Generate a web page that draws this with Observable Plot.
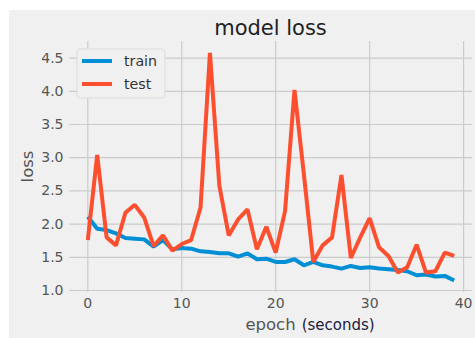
<!DOCTYPE html>
<html><head><meta charset="utf-8">
<script src="https://cdn.jsdelivr.net/npm/d3@7"></script>
<script src="https://cdn.jsdelivr.net/npm/@observablehq/plot@0.6"></script>
<style>
html,body{margin:0;padding:0;background:#fff;}
#chart{position:absolute;left:9px;top:10px;width:466px;height:328px;background:#f0f0f0;}
#chart svg{display:block;}
</style></head><body><div id="chart"></div>
<script>
const epochs = [0,1,2,3,4,5,6,7,8,9,10,11,12,13,14,15,16,17,18,19,20,21,22,23,24,25,26,27,28,29,30,31,32,33,34,35,36,37,38,39];
const trainLoss = [2.11,1.93,1.91,1.86,1.79,1.78,1.77,1.66,1.76,1.62,1.64,1.63,1.59,1.58,1.56,1.56,1.51,1.56,1.47,1.48,1.43,1.43,1.47,1.38,1.43,1.38,1.36,1.33,1.37,1.34,1.35,1.33,1.32,1.31,1.29,1.23,1.24,1.21,1.22,1.15];
const testLoss = [1.76,3.04,1.80,1.68,2.17,2.29,2.10,1.67,1.83,1.60,1.70,1.76,2.25,4.58,2.58,1.83,2.07,2.22,1.62,1.96,1.57,2.20,4.02,2.75,1.43,1.68,1.80,2.74,1.49,1.80,2.09,1.65,1.52,1.27,1.35,1.69,1.27,1.29,1.57,1.52];
const xTicks = [0,10,20,30,40];
const yTicks = [1.0,1.5,2.0,2.5,3.0,3.5,4.0,4.5];
const seriesNames = ["train","test"];
const seriesColors = ["#008fd5","#fc4f30"];
const titleText = "model loss";
const yLabel = "loss";
const xLabel = "epoch";
const xLabelExtra = "(seconds)";

const W = 466, H = 328, ML = 60, MR = 3, MT = 31, MB = 46;

const data = [];
epochs.forEach((e, i) => {
  data.push({epoch: e, loss: trainLoss[i], series: seriesNames[0]});
});
epochs.forEach((e, i) => {
  data.push({epoch: e, loss: testLoss[i], series: seriesNames[1]});
});

const font = "'DejaVu Sans', sans-serif";
const chart = Plot.plot({
  width: W, height: H,
  marginLeft: ML, marginRight: MR, marginTop: MT, marginBottom: MB,
  style: {background: "transparent", fontFamily: font, fontSize: "14px", color: "#555", overflow: "visible"},
  x: {domain: [-1.95, 40.95]},
  y: {domain: [0.97, 4.75]},
  color: {domain: seriesNames, range: seriesColors},
  marks: [
    Plot.gridX(xTicks, {stroke: "#cbcbcb", strokeOpacity: 1, strokeWidth: 1.2}),
    Plot.gridY(yTicks, {stroke: "#cbcbcb", strokeOpacity: 1, strokeWidth: 1.2}),
    Plot.axisX(xTicks, {tickSize: 0, tickPadding: 6, tickFormat: d => String(d), label: null, fontSize: 14, fill: "#555"}),
    Plot.axisY(yTicks, {tickSize: 0, tickPadding: 6, tickFormat: d => d.toFixed(1), label: null, fontSize: 14, fill: "#555"}),
    Plot.line(data, {x: "epoch", y: "loss", stroke: "series", z: "series", strokeWidth: 4, strokeLinejoin: "miter", strokeLinecap: "butt"})
  ]
});
document.getElementById("chart").appendChild(chart);

const svg = d3.select(chart);
const cx = (ML + (W - MR)) / 2;
svg.append("text").attr("x", cx).attr("y", 24.5).attr("text-anchor", "middle")
  .attr("font-family", font).attr("font-size", 21).attr("fill", "#222").text(titleText);
svg.append("text").attr("transform", `translate(24,${(MT + H - MB) / 2}) rotate(-90)`)
  .attr("text-anchor", "middle").attr("font-family", font).attr("font-size", 16.5).attr("fill", "#555").text(yLabel);
svg.append("text").attr("x", cx).attr("y", 320).attr("text-anchor", "middle")
  .attr("font-family", font).attr("font-size", 16.5).attr("fill", "#555").text(xLabel);
svg.append("text").attr("x", 292.7).attr("y", 320).attr("text-anchor", "start")
  .attr("font-family", font).attr("font-size", 15).attr("fill", "#202040").text(xLabelExtra);

// legend
const lg = svg.append("g");
lg.append("rect").attr("x", 68).attr("y", 39).attr("width", 88).attr("height", 49).attr("rx", 3)
  .attr("fill", "#f0f0f0").attr("stroke", "#dcdcdc").attr("stroke-width", 1);
seriesNames.forEach((name, i) => {
  const yy = 51 + i * 23;
  lg.append("line").attr("x1", 73).attr("x2", 103).attr("y1", yy).attr("y2", yy)
    .attr("stroke", seriesColors[i]).attr("stroke-width", 4);
  lg.append("text").attr("x", 115).attr("y", yy + 5).attr("text-anchor", "start")
    .attr("font-family", font).attr("font-size", 14.2).attr("fill", "#333").text(name);
});
</script></body></html>
